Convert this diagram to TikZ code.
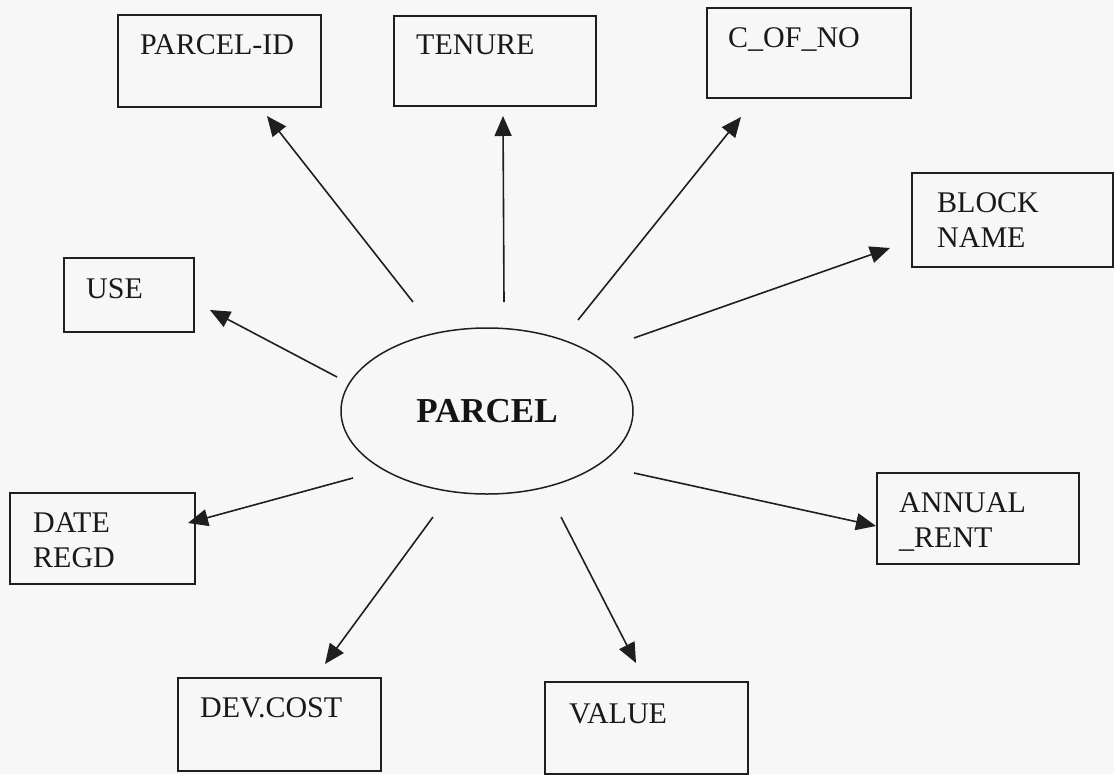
\documentclass[tikz,border=0pt]{standalone}
\usepackage{fontspec}
\setmainfont{Liberation Serif}
\usetikzlibrary{arrows.meta,shapes.geometric}

\tikzset{
  ink/.style={draw=black!88},
  entitybox/.style={ink, line width=1.5pt, rectangle, inner sep=0pt, anchor=north west},
  boxtext/.style={inner sep=0pt, anchor=north west, align=left,
    font=\fontsize{30}{35}\selectfont, text=black!90},
  centre/.style={ink, line width=1.5pt, ellipse, inner sep=0pt,
    minimum width=292pt, minimum height=166pt,
    font=\fontsize{35}{40}\selectfont\bfseries, text=black!92},
  link/.style={ink, line width=1.6pt, -{Triangle[length=20pt,width=17pt]}},
}

\begin{document}
\begin{tikzpicture}[x=1pt,y=-1pt]
  % page
  \fill[black!3] (0,0) rectangle (1114,774);
  \useasboundingbox (0,0) rectangle (1114,774);

  % central entity
  \node[centre] (parcel) at (487,411) {PARCEL};

  % attribute boxes
  \node[entitybox, minimum width=203pt, minimum height=92pt] (pid) at (117,14) {};
  \node[entitybox, minimum width=202pt, minimum height=90pt] (ten) at (393,15) {};
  \node[entitybox, minimum width=204pt, minimum height=90pt] (cof) at (706,7) {};
  \node[entitybox, minimum width=201pt, minimum height=94pt] (blk) at (911,172) {};
  \node[entitybox, minimum width=130pt, minimum height=74pt] (use) at (63,257) {};
  \node[entitybox, minimum width=185pt, minimum height=91pt] (dat) at (9,492) {};
  \node[entitybox, minimum width=202pt, minimum height=91pt] (ann) at (876,472) {};
  \node[entitybox, minimum width=203pt, minimum height=93pt] (dev) at (177,677) {};
  \node[entitybox, minimum width=203pt, minimum height=92pt] (val) at (544,681) {};

  % box captions
  \node[boxtext] (pid-l) at ([shift={(23,20)}]pid.north west) {PARCEL-ID};
  \node[boxtext] (ten-l) at ([shift={(23,20)}]ten.north west) {TENURE};
  \node[boxtext] (cof-l) at ([shift={(22,20)}]cof.north west) {C\_OF\_NO};
  \node[boxtext] (blk-l) at ([shift={(26,20)}]blk.north west) {BLOCK\\NAME};
  \node[boxtext] (use-l) at ([shift={(23,21)}]use.north west) {USE};
  \node[boxtext] (dat-l) at ([shift={(24,20)}]dat.north west) {DATE\\REGD};
  \node[boxtext] (ann-l) at ([shift={(23,20)}]ann.north west) {ANNUAL\\\_RENT};
  \node[boxtext] (dev-l) at ([shift={(23,20)}]dev.north west) {DEV.COST};
  \node[boxtext] (val-l) at ([shift={(25,22)}]val.north west) {VALUE};

  % connector ends: arrows leave a gap round the ellipse
  \coordinate (pid-t) at (413,302); \coordinate (pid-h) at (267,116);
  \coordinate (ten-t) at (504,302); \coordinate (ten-h) at (503,116);
  \coordinate (cof-t) at (578,320); \coordinate (cof-h) at (741,117);
  \coordinate (blk-t) at (634,338); \coordinate (blk-h) at (890,248);
  \coordinate (use-t) at (337,377); \coordinate (use-h) at (210,310);
  \coordinate (dat-t) at (353,478); \coordinate (dat-h) at (188,523);
  \coordinate (ann-t) at (634,473); \coordinate (ann-h) at (876,526);
  \coordinate (dev-t) at (433,517); \coordinate (dev-h) at (325,664);
  \coordinate (val-t) at (561,517); \coordinate (val-h) at (636,663);

  \foreach \n in {pid,ten,cof,blk,use,dat,ann,dev,val}
    \draw[link] (\n-t) -- (\n-h);
\end{tikzpicture}
\end{document}
